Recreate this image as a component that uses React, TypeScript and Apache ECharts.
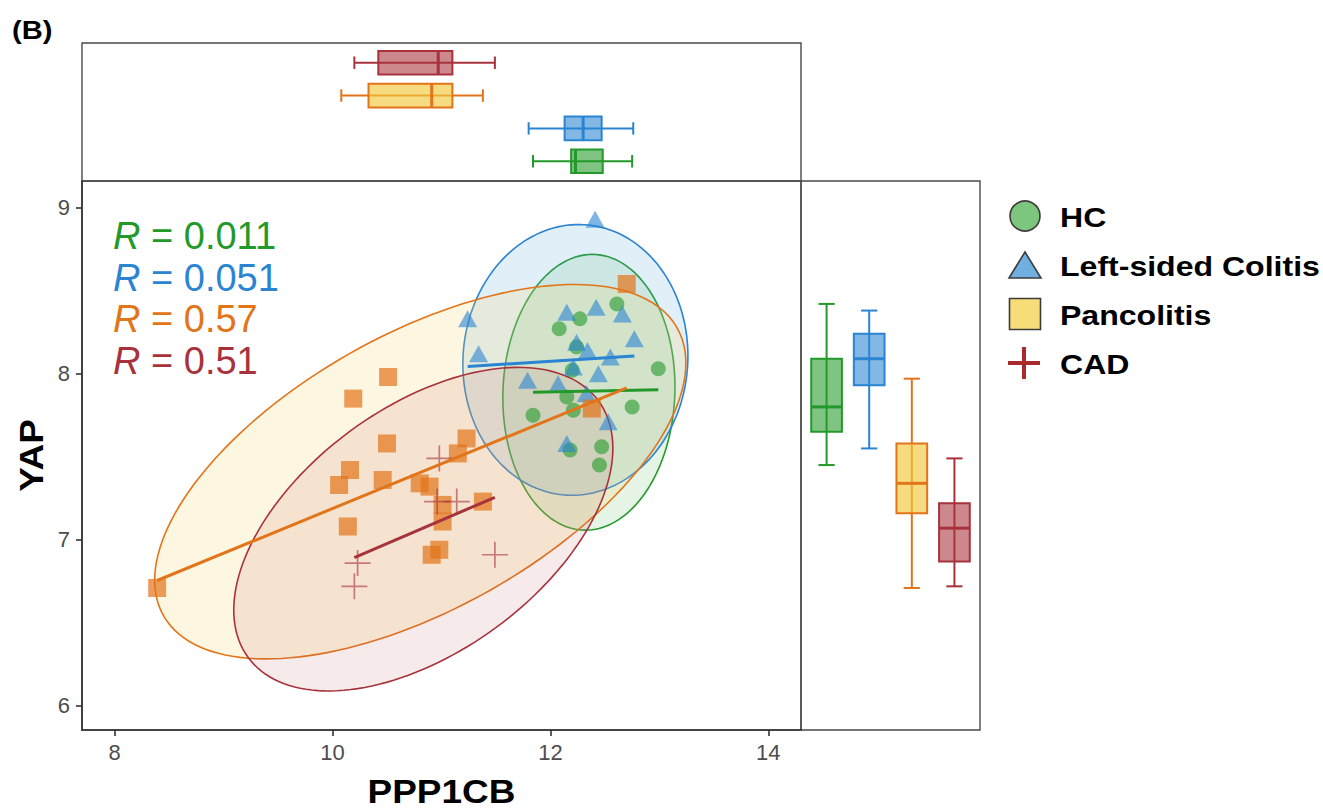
import React, { useEffect, useRef } from "react";
import * as echarts from "echarts";

// ---------- data ----------
const GROUPS = ["HC", "Left-sided Colitis", "Pancolitis", "CAD"];
const LINE_COLORS = ["#23992A", "#2A84D2", "#E2741A", "#A8323C"];
const BOX_FILLS = ["#23992A", "#2A84D2", "#F2C83C", "#A8323C"];
const ELLIPSE_FILLS = ["#5CB85C", "#5AA6DC", "#F7D56A", "#C0505A"];

const hcX = [12.61, 12.27, 12.08, 12.99, 12.2, 12.75, 11.84, 12.15, 12.21, 12.47, 12.45, 12.18, 12.24];
const hcY = [8.42, 8.33, 8.27, 8.03, 8.02, 7.8, 7.75, 7.86, 7.78, 7.56, 7.45, 7.54, 8.16];

const lscX = [12.41, 11.24, 12.15, 12.42, 12.66, 12.77, 11.34, 12.24, 12.34, 12.55, 12.21, 12.44, 11.79, 12.07, 12.33, 12.53, 12.15];
const lscY = [8.93, 8.33, 8.37, 8.4, 8.36, 8.21, 8.12, 8.19, 8.14, 8.1, 8.04, 8.0, 7.96, 7.94, 7.88, 7.71, 7.58];

const panX = [8.39, 10.51, 10.19, 10.5, 10.16, 10.06, 10.46, 10.14, 11.23, 11.15, 10.8, 10.89, 11.01, 11.01, 11.38, 10.98, 10.91, 12.38, 12.7];
const panY = [6.71, 7.98, 7.85, 7.58, 7.42, 7.33, 7.36, 7.08, 7.61, 7.52, 7.34, 7.32, 7.21, 7.11, 7.23, 6.94, 6.91, 7.79, 8.54];

const cadX = [10.98, 10.96, 11.14, 10.23, 10.2, 11.49];
const cadY = [7.49, 7.23, 7.23, 6.86, 6.72, 6.91];

// regression line end points [x, y]
const regLines = [
  [[11.84, 7.888], [12.99, 7.904]],
  [[11.24, 8.044], [12.77, 8.106]],
  [[8.39, 6.755], [12.7, 7.915]],
  [[10.2, 6.893], [11.49, 7.256]],
];

// ellipse: [centerX, centerY, halfExtentX, halfExtentY, correlation]
const ellipses = [
  [12.353, 7.888, 0.79, 0.83, 0.04],
  [12.229, 8.083, 1.033, 0.815, 0.03],
  [10.805, 7.41, 2.438, 1.127, 0.58],
  [10.833, 7.064, 1.74, 0.974, 0.5],
];

// marginal box stats: [min, q1, median, q3, max]
const xBoxStats = [
  [11.84, 12.19, 12.23, 12.48, 12.75],
  [11.8, 12.13, 12.3, 12.47, 12.76],
  [10.08, 10.33, 10.91, 11.1, 11.38],
  [10.2, 10.42, 10.97, 11.1, 11.49],
];
const yBoxStats = [
  [7.45, 7.65, 7.8, 8.09, 8.42],
  [7.55, 7.93, 8.09, 8.24, 8.38],
  [6.71, 7.16, 7.34, 7.58, 7.97],
  [6.72, 6.87, 7.07, 7.22, 7.49],
];

const rLabels = ["0.011", "0.051", "0.57", "0.51"];
const xTicks = [8, 10, 12, 14];
const yTicks = [6, 7, 8, 9];

// ---------- helpers ----------
const X_MIN = 7.7, X_MAX = 14.3, Y_MIN = 5.855, Y_MAX = 9.16;
const FONT = '"Liberation Sans", Arial, sans-serif';

function rgba(hex: string, a: number) {
  const n = parseInt(hex.slice(1), 16);
  return `rgba(${(n >> 16) & 255},${(n >> 8) & 255},${n & 255},${a})`;
}

function ellipseRender(gi: number) {
  return (params: any, api: any) => {
    const cx = api.value(0), cy = api.value(1), sx = api.value(2), sy = api.value(3), r = api.value(4);
    const k = Math.sqrt(1 - r * r);
    const pts: number[][] = [];
    const N = 160;
    for (let i = 0; i < N; i++) {
      const t = (i / N) * Math.PI * 2;
      pts.push(api.coord([cx + sx * Math.cos(t), cy + sy * (r * Math.cos(t) + k * Math.sin(t))]));
    }
    const fillA = [0.16, 0.18, 0.2, 0.12][gi];
    return {
      type: "polygon",
      shape: { points: pts },
      style: { fill: rgba(ELLIPSE_FILLS[gi], fillA), stroke: LINE_COLORS[gi], lineWidth: 1.6 },
    };
  };
}

function boxRender(horizontal: boolean) {
  return (params: any, api: any) => {
    const gi = params.dataIndex;
    const pos = api.value(0);
    const mn = api.value(1), q1 = api.value(2), md = api.value(3), q3 = api.value(4), mx = api.value(5);
    const c = (v: number, p: number) => (horizontal ? api.coord([v, p]) : api.coord([p, v]));
    const hb = 0.36, hc = 0.19;
    const col = LINE_COLORS[gi];
    const fillA = gi === 2 ? 0.65 : 0.58;
    const line = (a: number[], b: number[], w: number) => ({
      type: "line",
      shape: { x1: a[0], y1: a[1], x2: b[0], y2: b[1] },
      style: { stroke: col, lineWidth: w },
    });
    return {
      type: "group",
      children: [
        line(c(mn, pos), c(mx, pos), 2),
        line(c(mn, pos - hc), c(mn, pos + hc), 2),
        line(c(mx, pos - hc), c(mx, pos + hc), 2),
        {
          type: "polygon",
          shape: { points: [c(q1, pos - hb), c(q3, pos - hb), c(q3, pos + hb), c(q1, pos + hb)] },
          style: { fill: rgba(BOX_FILLS[gi], fillA), stroke: col, lineWidth: 2 },
        },
        line(c(md, pos - hb), c(md, pos + hb), 3),
      ],
    };
  };
}

const CROSS = "path://M11.2,0H12.8V11.2H24V12.8H12.8V24H11.2V12.8H0V11.2H11.2Z";

export default function App() {
  const ref = useRef<HTMLDivElement>(null);
  useEffect(() => {
    if (!ref.current) return;
    const chart = echarts.init(ref.current, undefined, { renderer: "svg" });

    const pointSets = [
      { x: hcX, y: hcY, symbol: "circle", size: 15, opacity: 0.6 },
      { x: lscX, y: lscY, symbol: "triangle", size: [19, 17], opacity: 0.6 },
      { x: panX, y: panY, symbol: "rect", size: 18, opacity: 0.7 },
      { x: cadX, y: cadY, symbol: CROSS, size: 26, opacity: 0.6 },
    ];

    const series: any[] = [];
    GROUPS.forEach((g, gi) => {
      series.push({
        type: "custom",
        name: g + " ellipse",
        xAxisIndex: 0,
        yAxisIndex: 0,
        renderItem: ellipseRender(gi),
        data: [ellipses[gi]],
        encode: { x: 0, y: 1 },
        silent: true,
        z: 1,
      });
    });
    pointSets.forEach((p, gi) => {
      series.push({
        type: "scatter",
        name: GROUPS[gi],
        xAxisIndex: 0,
        yAxisIndex: 0,
        symbol: p.symbol,
        symbolSize: p.size,
        data: p.x.map((v, i) => [v, p.y[i]]),
        itemStyle: { color: LINE_COLORS[gi], opacity: p.opacity },
        z: 2,
      });
    });
    regLines.forEach((l, gi) => {
      series.push({
        type: "line",
        name: GROUPS[gi] + " fit",
        xAxisIndex: 0,
        yAxisIndex: 0,
        data: l,
        showSymbol: false,
        lineStyle: { color: LINE_COLORS[gi], width: 3 },
        z: 3,
      });
    });
    series.push({
      type: "custom",
      name: "top boxes",
      xAxisIndex: 1,
      yAxisIndex: 1,
      renderItem: boxRender(true),
      data: xBoxStats.map((s, gi) => [gi + 1, ...s]),
      encode: { x: [1, 2, 3, 4, 5], y: 0 },
    });
    series.push({
      type: "custom",
      name: "right boxes",
      xAxisIndex: 2,
      yAxisIndex: 2,
      renderItem: boxRender(false),
      data: yBoxStats.map((s, gi) => [gi + 1, ...s]),
      encode: { x: 0, y: [1, 2, 3, 4, 5] },
    });

    const gridStyle = { show: true, borderColor: "#4a4a4a", borderWidth: 1.4, backgroundColor: "transparent" };

    const graphic: any[] = [];
    // title
    graphic.push({
      type: "text", x: 12, y: 30, scaleX: 1.12,
      style: { text: "(B)", x: 0, y: 0, font: `bold 26px ${FONT}`, fill: "#000", align: "left", verticalAlign: "middle" },
    });
    // R labels
    rLabels.forEach((r, gi) => {
      graphic.push({
        type: "text", x: 113, y: 236 + gi * 41.7,
        style: {
          text: `{i|R} = ${r}`, x: 0, y: 0, fontSize: 38, fontFamily: FONT, fill: LINE_COLORS[gi],
          align: "left", verticalAlign: "middle",
          rich: { i: { fontStyle: "italic", fontSize: 38, fontFamily: FONT, fill: LINE_COLORS[gi] } },
        },
        z: 10,
      });
    });
    // axis titles
    graphic.push({
      type: "text", x: 441.5, y: 791, scaleX: 1.12,
      style: { text: "PPP1CB", x: 0, y: 0, font: `bold 33px ${FONT}`, fill: "#000", align: "center", verticalAlign: "middle" },
    });
    graphic.push({
      type: "text", x: 31, y: 455.5, rotation: Math.PI / 2, scaleX: 1.12,
      style: { text: "YAP", x: 0, y: 0, font: `bold 33px ${FONT}`, fill: "#000", align: "center", verticalAlign: "middle" },
    });
    // legend
    const legY = [216, 265, 314, 363];
    const sym = "#3c3c3c";
    graphic.push({ type: "circle", shape: { cx: 1025, cy: legY[0], r: 15 }, style: { fill: "#7DC67D", stroke: sym, lineWidth: 1.6 } });
    graphic.push({
      type: "polygon",
      shape: { points: [[1025, legY[1] - 13], [1041, legY[1] + 13], [1009, legY[1] + 13]] },
      style: { fill: "#6FB0E0", stroke: sym, lineWidth: 1.6 },
    });
    graphic.push({ type: "rect", shape: { x: 1009.5, y: legY[2] - 15.5, width: 31, height: 31 }, style: { fill: "#F7DC7A", stroke: sym, lineWidth: 1.6 } });
    graphic.push({ type: "line", shape: { x1: 1008, y1: legY[3], x2: 1040, y2: legY[3] }, style: { stroke: "#A82A2A", lineWidth: 4 } });
    graphic.push({ type: "line", shape: { x1: 1024, y1: legY[3] - 16, x2: 1024, y2: legY[3] + 16 }, style: { stroke: "#A82A2A", lineWidth: 4 } });
    GROUPS.forEach((g, gi) => {
      graphic.push({
        type: "text", x: 1060, y: legY[gi] + 1, scaleX: 1.145,
        style: { text: g, x: 0, y: 0, font: `bold 28px ${FONT}`, fill: "#000", align: "left", verticalAlign: "middle" },
      });
    });

    const option: any = {
      animation: false,
      backgroundColor: "#ffffff",
      grid: [
        { left: 82, top: 181, width: 719, height: 549, ...gridStyle },
        { left: 82, top: 43, width: 719, height: 138, ...gridStyle },
        { left: 801, top: 181, width: 179, height: 549, ...gridStyle },
      ],
      xAxis: [
        {
          gridIndex: 0, type: "value", min: X_MIN, max: X_MAX,
          axisLine: { show: true, onZero: false, lineStyle: { color: "#333", width: 1.6 } },
          axisTick: { show: true, length: 6, customValues: xTicks, lineStyle: { color: "#333", width: 1.6 } },
          axisLabel: { customValues: xTicks, color: "#4D4D4D", fontSize: 22, fontFamily: FONT, margin: 11 },
          splitLine: { show: false },
        },
        { gridIndex: 1, type: "value", min: X_MIN, max: X_MAX, show: false },
        { gridIndex: 2, type: "value", min: 0.4, max: 4.6, show: false },
      ],
      yAxis: [
        {
          gridIndex: 0, type: "value", min: Y_MIN, max: Y_MAX,
          axisLine: { show: true, onZero: false, lineStyle: { color: "#333", width: 1.6 } },
          axisTick: { show: true, length: 6, customValues: yTicks, lineStyle: { color: "#333", width: 1.6 } },
          axisLabel: { customValues: yTicks, color: "#4D4D4D", fontSize: 22, fontFamily: FONT, margin: 12 },
          splitLine: { show: false },
        },
        { gridIndex: 1, type: "value", min: 0.4, max: 4.6, show: false },
        { gridIndex: 2, type: "value", min: Y_MIN, max: Y_MAX, show: false },
      ],
      series,
      graphic,
    };
    chart.setOption(option);
    return () => chart.dispose();
  }, []);
  return <div ref={ref} style={{ position: "absolute", left: 0, top: 0, width: 1323, height: 812 }} />;
}
